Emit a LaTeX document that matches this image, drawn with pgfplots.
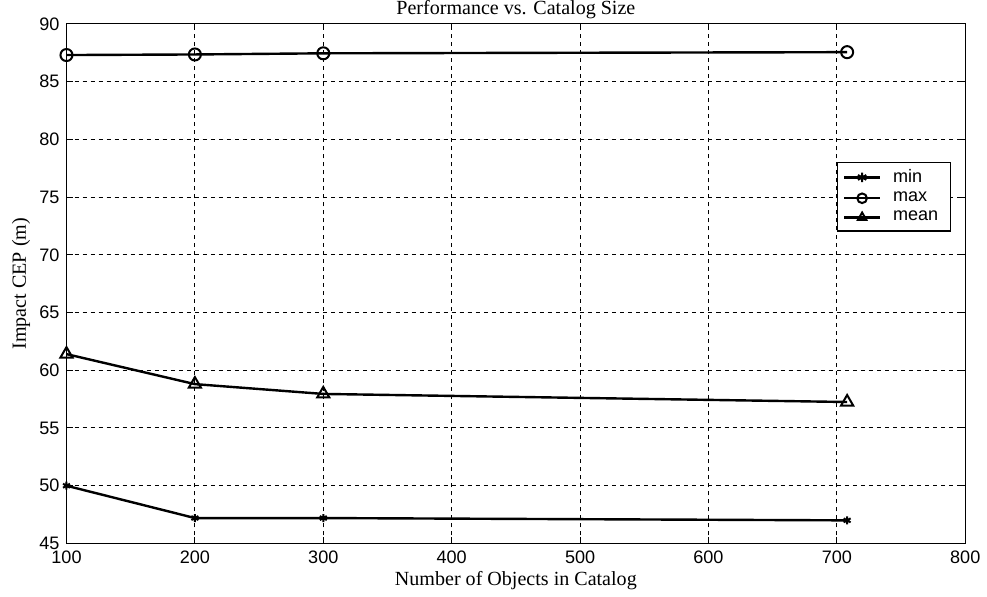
\documentclass[border=0pt]{standalone}
\usepackage{pgfplots}
\pgfplotsset{compat=1.18}
\usepackage{fontspec}
\setmainfont{Liberation Serif}
\setsansfont{Liberation Sans}

\begin{document}
\begin{tikzpicture}
\begin{axis}[
  scale only axis, width=448pt, height=259pt,
  xmin=100, xmax=800, ymin=45, ymax=90,
  xtick={100,200,...,800}, ytick={45,50,...,90},
  tick align=inside, major tick length=3pt,
  tick style={black, line width=0.5pt},
  grid=major,
  grid style={black, line width=0.5pt, dash pattern=on 2pt off 2pt},
  axis line style={black, line width=0.6pt},
  tick label style={font=\sffamily\fontsize{9}{10}\selectfont},
  /pgf/number format/assume math mode=true,
  title={Performance vs. Catalog Size},
  title style={font=\fontsize{10}{12}\selectfont, inner sep=0pt, yshift=-3.5pt},
  xlabel={Number of Objects in Catalog},
  ylabel={Impact CEP (m)},
  label style={font=\fontsize{10}{12}\selectfont},
  xlabel style={yshift=3pt},
  ylabel style={inner ysep=6pt, yshift=-5pt},
  legend style={at={(0.984,0.735)}, anchor=north east, font=\sffamily\fontsize{9}{10}\selectfont,
    draw=black, line width=0.6pt, cells={anchor=west}, row sep=0pt,
    nodes={inner ysep=1.6pt, inner xsep=3pt},
    /tikz/every odd column/.append style={column sep=3pt}},
  legend image code/.code={
    \draw[#1, line width=1.2pt] (0cm,0cm) -- (0.62cm,0cm);
    \draw[#1, line width=1.2pt, mark size=2.4pt] plot coordinates {(0.31cm,0cm)};},
]
\addplot[black, line width=1.2pt, mark=asterisk, mark size=2pt, mark options={solid, line width=1pt}]
  coordinates {(100,50.0) (200,47.2) (300,47.2) (708,47.0)};
\addlegendentry{min}
\addplot[black, line width=1.2pt, mark=o, mark size=3pt, mark options={solid, line width=1pt}]
  coordinates {(100,87.3) (200,87.35) (300,87.45) (708,87.55)};
\addlegendentry{max}
\addplot[black, line width=1.2pt, mark=triangle, mark size=3.5pt, mark options={solid, line width=1pt}]
  coordinates {(100,61.4) (200,58.8) (300,57.95) (708,57.25)};
\addlegendentry{mean}
\end{axis}
\end{tikzpicture}
\end{document}
